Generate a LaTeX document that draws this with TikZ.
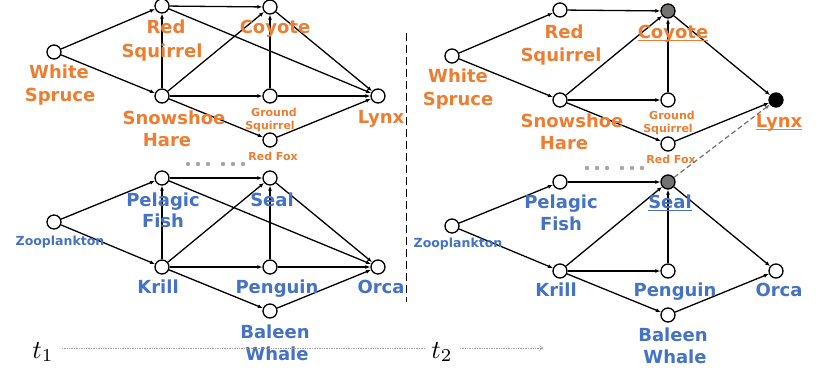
\documentclass[tikz,border=0pt]{standalone}
\usepackage{fontspec}
\usepackage{graphicx}
\setsansfont{DejaVu Sans}
\usetikzlibrary{arrows.meta}
\definecolor{orng}{HTML}{ED7D31}
\definecolor{blu}{HTML}{4472C4}
\definecolor{dgray}{HTML}{767171}
\definecolor{dotgray}{HTML}{A6A6A6}
\definecolor{lgray}{HTML}{A0A0A0}
\newcommand\myul[1]{\setbox0\hbox{#1}\rlap{\rule[-3pt]{\wd0}{1.2pt}}\box0}
\begin{document}
\begin{tikzpicture}[x=1pt,y=-1pt,
  sp/.style={circle,draw,line width=1.3pt,minimum size=14pt,inner sep=0pt,fill=white},
  ed/.style={line width=1.3pt,-{Latex[length=5pt,width=4pt]}},
  dshed/.style={line width=1.2pt,dgray,dash pattern=on 5pt off 3pt,-{Latex[length=5pt,width=4pt]}},
  big/.style={font=\sffamily\bfseries\fontsize{18}{22}\selectfont,anchor=base,inner sep=0pt},
  sml/.style={font=\sffamily\bfseries\fontsize{11}{13}\selectfont,anchor=base,inner sep=0pt},
  mid/.style={font=\sffamily\bfseries\fontsize{12.5}{14}\selectfont,anchor=base,inner sep=0pt},
  bo/.style={big,text=orng}, so/.style={sml,text=orng},
  bb/.style={big,text=blu}, mb/.style={mid,text=blu},
  tlab/.style={anchor=base,inner sep=0pt},
  tline/.style={lgray,line width=0.7pt,densely dotted}]
\useasboundingbox (0,0) rectangle (830,380);

% ---------------- t1 : left graph ----------------
\node[sp] (ws) at (54,52) {};
\node[sp] (rs) at (162,6) {};
\node[sp] (co) at (270,7) {};
\node[sp] (sh) at (162,96) {};
\node[sp] (gs) at (270,96) {};
\node[sp] (rf) at (270,140) {};
\node[sp] (ly) at (378,96) {};
\draw[ed] (ws) -- (rs);
\draw[ed] (ws) -- (sh);
\draw[ed] (rs) -- (co);
\draw[ed] (rs) -- (ly);
\draw[ed] (sh) -- (rs);
\draw[ed] (sh) -- (co);
\draw[ed] (sh) -- (gs);
\draw[ed] (sh) -- (rf);
\draw[ed] (gs) -- (co);
\draw[ed] (gs) -- (ly);
\draw[ed] (co) -- (ly);
\draw[ed] (rf) -- (ly);

\node[bo] (lws1) at (59,78) {White};
\node[bo] (lws2) at (60,101) {Spruce};
\node[bo] (lrs1) at (166,34) {Red};
\node[bo] (lrs2) at (162,57) {Squirrel};
\node[bo] (lco) at (275,34) {Coyote};
\node[bo] (lsh1) at (174,124) {Snowshoe};
\node[bo] (lsh2) at (167,146) {Hare};
\node[so] (lgs1) at (274,116) {Ground};
\node[so] (lgs2) at (270,129) {Squirrel};
\node[so] (lrf) at (273,160) {Red Fox};
\node[bo] (lly) at (381,123) {Lynx};

\node[sp] (zp) at (54,222) {};
\node[sp] (pf) at (162,178) {};
\node[sp] (se) at (270,178) {};
\node[sp] (kr) at (162,267) {};
\node[sp] (pe) at (270,267) {};
\node[sp] (bw) at (270,311) {};
\node[sp] (or) at (378,267) {};
\draw[ed] (zp) -- (pf);
\draw[ed] (zp) -- (kr);
\draw[ed] (pf) -- (se);
\draw[ed] (pf) -- (or);
\draw[ed] (kr) -- (pf);
\draw[ed] (kr) -- (se);
\draw[ed] (kr) -- (pe);
\draw[ed] (kr) -- (bw);
\draw[ed] (pe) -- (se);
\draw[ed] (pe) -- (or);
\draw[ed] (se) -- (or);
\draw[ed] (bw) -- (or);

\node[bb] (lpf1) at (163,206) {Pelagic};
\node[bb] (lpf2) at (163,227) {Fish};
\node[bb] (lse) at (272,206) {Seal};
\node[mb] (lzp) at (60,245) {Zooplankton};
\node[bb] (lkr) at (158,293) {Krill};
\node[bb] (lpe) at (277,293) {Penguin};
\node[bb] (lor) at (381,293) {Orca};
\node[bb] (lbw1) at (275,338) {Baleen};
\node[bb] (lbw2) at (277,360) {Whale};

\foreach \x in {188,198,208,223,233,243} \fill[dotgray] (\x,164) circle (2.2);

% separator
\draw[line width=1.3pt,dash pattern=on 8pt off 4pt] (406.5,33) -- (406.5,302);

% ---------------- t2 : right graph ----------------
\begin{scope}[shift={(398,4)}]
\node[sp] (rws) at (54,52) {};
\node[sp] (rrs) at (162,6) {};
\node[sp,fill=dgray] (rco) at (270,7) {};
\node[sp] (rsh) at (162,96) {};
\node[sp] (rgs) at (270,96) {};
\node[sp] (rrf) at (270,140) {};
\node[sp,fill=black] (rly) at (378,96) {};
\draw[ed] (rws) -- (rrs);
\draw[ed] (rws) -- (rsh);
\draw[ed] (rrs) -- (rco);
\draw[ed] (rsh) -- (rco);
\draw[ed] (rsh) -- (rgs);
\draw[ed] (rsh) -- (rrf);
\draw[ed] (rgs) -- (rco);
\draw[ed] (rco) -- (rly);
\draw[ed] (rrf) -- (rly);

\node[bo] (rlws1) at (60,78) {White};
\node[bo] (rlws2) at (60,101) {Spruce};
\node[bo] (rlrs1) at (166,34) {Red};
\node[bo] (rlrs2) at (163,57) {Squirrel};
\node[bo] (rlco) at (275,34) {\myul{Coyote}};
\node[bo] (rlsh1) at (174,123) {Snowshoe};
\node[bo] (rlsh2) at (166,145) {Hare};
\node[so] (rlgs1) at (274,115) {Ground};
\node[so] (rlgs2) at (270,128) {Squirrel};
\node[so] (rlrf) at (273,159) {Red Fox};
\node[bo] (rlly) at (381,123) {\myul{Lynx}};

\node[sp] (rzp) at (54,222) {};
\node[sp] (rpf) at (162,178) {};
\node[sp,fill=dgray] (rse) at (270,178) {};
\node[sp] (rkr) at (162,267) {};
\node[sp] (rpe) at (270,267) {};
\node[sp] (rbw) at (270,311) {};
\node[sp] (ror) at (378,267) {};
\draw[ed] (rzp) -- (rpf);
\draw[ed] (rzp) -- (rkr);
\draw[ed] (rpf) -- (rse);
\draw[ed] (rkr) -- (rse);
\draw[ed] (rkr) -- (rpe);
\draw[ed] (rkr) -- (rbw);
\draw[ed] (rpe) -- (rse);
\draw[ed] (rse) -- (ror);
\draw[ed] (rbw) -- (ror);
\draw[dshed] (rse) -- (rly);

\node[bb] (rlpf1) at (163,204) {Pelagic};
\node[bb] (rlpf2) at (163,226) {Fish};
\node[bb] (rlse) at (272,204) {\myul{Seal}};
\node[mb] (rlzp) at (60,243) {Zooplankton};
\node[bb] (rlkr) at (158,292) {Krill};
\node[bb] (rlpe) at (277,292) {Penguin};
\node[bb] (rlor) at (381,292) {Orca};
\node[bb] (rlbw1) at (275,337) {Baleen};
\node[bb] (rlbw2) at (277,359) {Whale};

\foreach \x in {189,199,209,224,234,244} \fill[dotgray] (\x,164) circle (2.2);
\end{scope}

% ---------------- time axis ----------------
\node[tlab] (t1) at (43,358) {\scalebox{2.6}{$t_1$}};
\node[tlab] (t2) at (442,358) {\scalebox{2.6}{$t_2$}};
\coordinate (ta) at (62,348);
\coordinate (tb) at (425,348);
\coordinate (tc) at (460,348);
\coordinate (td) at (543,348);
\draw[tline] (ta) -- (tb);
\draw[tline,-{Straight Barb[length=3pt,width=5pt]}] (tc) -- (td);
\end{tikzpicture}
\end{document}
